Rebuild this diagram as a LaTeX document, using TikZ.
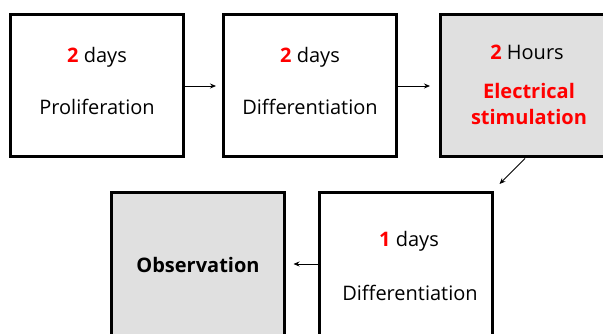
\documentclass[tikz,border=0pt]{standalone}
\usepackage{fontspec}
\setmainfont{Open Sans}
\usepackage{xcolor}
\usetikzlibrary{arrows.meta,shapes,calc}
\definecolor{boxgray}{RGB}{224,224,224}

\begin{document}
\begin{tikzpicture}[x=1pt, y=-1pt, box/.style={draw, line width=3pt, minimum width=173pt, minimum height=142pt, inner sep=0pt}, gray box/.style={box, fill=boxgray}, txt/.style={font=\fontsize{20}{26}\selectfont, inner sep=0pt}, red txt/.style={txt, text=red, font=\fontsize{20}{26}\selectfont\bfseries, align=center}, arr/.style={-{Stealth[length=6pt,width=5pt]}, line width=0.8pt}]
\useasboundingbox (0,0) rectangle (603,334);
\clip (0,0) rectangle (603,334);
\node[box] (1) at (97,86) {};
\node[box] (2) at (310,86) {};
\node[gray box] (3) at (527,86) {};
\node[box] (4) at (406,264) {};
\node[gray box] (5) at (197.5,264) {};
% texts
\node[txt] (t1a) at (97,57) {\textcolor{red}{\textbf{2}} days};
\node[txt] (t1b) at (97,107) {Proliferation};
\node[txt] (t2a) at (310,57) {\textcolor{red}{\textbf{2}} days};
\node[txt] (t2b) at (310,107) {Differentiation};
\node[txt] (t3a) at (527,52) {\textcolor{red}{\textbf{2}} Hours};
\node[red txt] (t3b) at (529,104) {Electrical\\stimulation};
\node[txt] (t4a) at (409,241) {\textcolor{red}{\textbf{1}} days};
\node[txt] (t4b) at (410,293) {Differentiation};
\node[txt, font=\fontsize{20}{26}\selectfont\bfseries] (t5) at (198,265) {Observation};
% arrows
\path[arr]
(1) edge[shorten >=6pt] (2)
(2) edge[shorten >=9pt] (3)
(4) edge[shorten >=8pt] (5);
\draw[arr] ([xshift=-2pt]3.south) -- ([shift={(5.5pt,7.5pt)}]4.north east);
\end{tikzpicture}
\end{document}
